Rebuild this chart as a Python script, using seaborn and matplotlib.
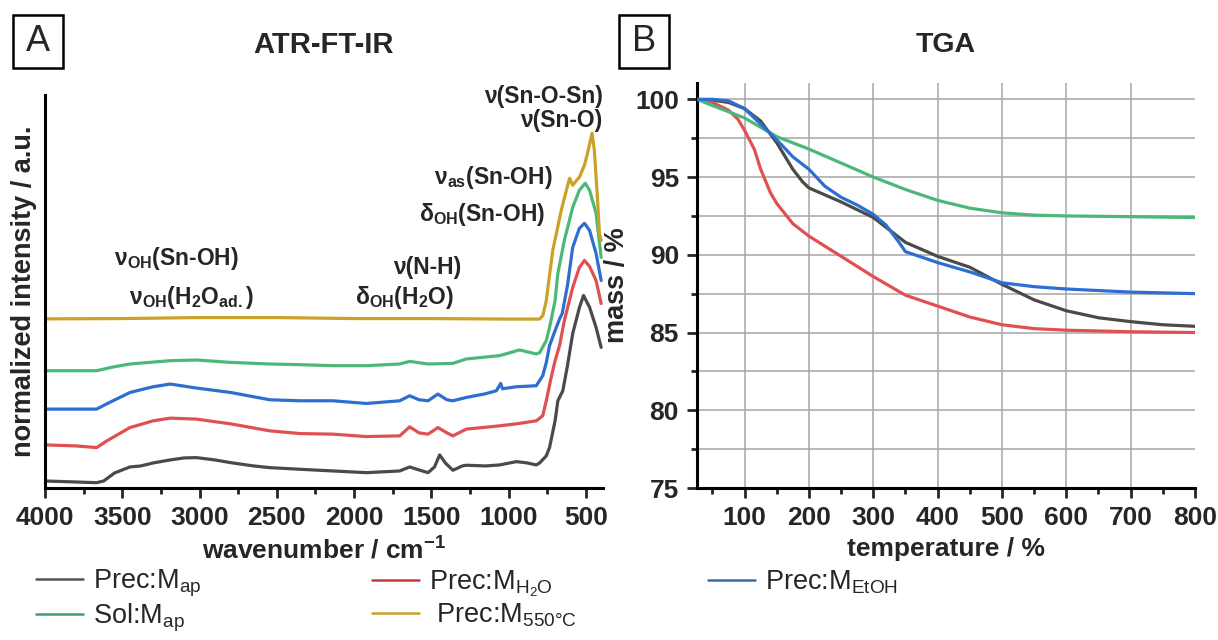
import numpy as np
import pandas as pd
import matplotlib
matplotlib.use("Agg")
import matplotlib.pyplot as plt
import seaborn as sns
from matplotlib.lines import Line2D
from matplotlib.patches import Rectangle
from matplotlib.ticker import MultipleLocator

sns.set_theme(style="white")
plt.rcParams['font.family'] = ['Liberation Sans', 'DejaVu Sans']
plt.rcParams['mathtext.fontset'] = 'custom'
plt.rcParams['mathtext.rm'] = 'Liberation Sans'
plt.rcParams['mathtext.bf'] = 'Liberation Sans:bold'
plt.rcParams['mathtext.it'] = 'Liberation Sans:italic'

# ---------------- data: ATR-FT-IR (offset, arbitrary units) ----------------
ir_map_wn = [4000, 3800, 3666, 3620, 3550, 3450, 3380, 3300, 3190, 3100, 3020, 2900, 2800, 2650, 2545,
             2352, 2136, 1921, 1705, 1641, 1580, 1522, 1480, 1447, 1410, 1361, 1300, 1275, 1150, 1059,
             950, 880, 822, 800, 757, 736, 700, 682, 650, 620, 586, 542, 516, 477, 435, 402]
ir_map_i = [7, 6, 5.3, 7, 15, 21, 22, 25, 28, 30, 30.3, 28, 25.3, 22, 20.3,
            18.7, 17, 15.3, 17, 21, 18, 15.3, 21, 33, 25, 17.7, 22, 22.7, 22, 23,
            26.3, 25, 23, 25, 32, 40.3, 67, 87, 97, 122, 154, 180.3, 192, 180.3, 160.3, 140.3]

ir_h2o_wn = [4000, 3800, 3666, 3600, 3450, 3300, 3190, 3020, 2800, 2545, 2352, 2136, 1921, 1705, 1641,
             1580, 1522, 1458, 1400, 1361, 1275, 1059, 950, 822, 780, 757, 730, 700, 671, 640,
             586, 543, 510, 477, 435, 402]
ir_h2o_i = [43, 42, 40.3, 47, 60.3, 67, 69.7, 68.7, 64, 57, 54.3, 53.7, 51.3, 52, 61,
            55, 53.7, 60.3, 55, 52, 58.7, 62, 64, 67, 72, 87, 107, 127, 142, 167,
            200, 220, 227, 221, 207, 184]

ir_etoh_wn = [4000, 3800, 3666, 3600, 3450, 3300, 3190, 3020, 2800, 2545, 2352, 2136, 1921, 1705, 1641,
              1580, 1522, 1458, 1400, 1361, 1275, 1150, 1080, 1052, 1040, 950, 822, 780, 757, 736,
              700, 670, 654, 620, 586, 543, 510, 477, 435, 402]
ir_etoh_i = [78.7, 78.7, 78.7, 84, 95.3, 101, 103.7, 99.7, 95.3, 88, 87, 87, 84.3, 87, 92,
             88, 87, 93.7, 88, 87, 90.3, 94, 97, 104.3, 99, 101, 102, 112, 125, 142,
             157, 169, 174, 202, 240, 259, 264, 257, 234, 207]

ir_sol_wn = [4000, 3800, 3666, 3550, 3450, 3190, 3020, 2800, 2545, 2352, 2136, 1921, 1705, 1641, 1522,
             1361, 1275, 1059, 930, 822, 800, 757, 736, 700, 682, 640, 586, 543, 505, 477, 435, 402]
ir_sol_i = [117, 117, 117, 121, 123.7, 127, 127.7, 125.3, 123.7, 123, 122, 122, 123.7, 126.3, 123.7,
            124.3, 128.7, 132, 137.7, 133.7, 135, 147, 160, 187, 214, 247, 280, 297, 304, 297, 274, 230]

ir_550_wn = [4000, 3500, 3000, 2500, 2000, 1500, 1000, 800, 779, 757, 715, 660, 627, 606, 586,
             560, 543, 510, 490, 461, 446, 425, 413, 402]
ir_550_i = [168.7, 169, 170, 170, 169, 169, 168.5, 168.5, 172, 187, 237, 277, 297, 309, 302,
            307, 310, 322, 334, 354, 337, 287, 254, 247]

# ---------------- data: TGA ----------------
tga_map_t = [26, 50, 75, 100, 125, 150, 175, 190, 200, 250, 300, 350, 400, 450, 500, 550, 600, 650, 700, 750, 800]
tga_map_m = [100, 99.95, 99.8, 99.4, 98.6, 97.2, 95.5, 94.7, 94.3, 93.4, 92.4, 90.8, 89.9, 89.2, 88.1, 87.1,
             86.4, 85.95, 85.7, 85.5, 85.4]

tga_h2o_t = [26, 50, 75, 90, 100, 115, 125, 140, 150, 175, 200, 250, 300, 350, 400, 450, 500, 550, 600, 700, 800]
tga_h2o_m = [100, 99.8, 99.3, 98.7, 98.0, 96.8, 95.5, 94.0, 93.3, 92.0, 91.2, 89.9, 88.6, 87.4, 86.7, 86.0,
             85.5, 85.25, 85.15, 85.05, 85.0]

tga_sol_t = [26, 50, 100, 150, 200, 250, 300, 350, 400, 450, 500, 550, 600, 700, 800]
tga_sol_m = [100, 99.6, 98.8, 97.6, 96.8, 95.9, 95.0, 94.2, 93.5, 93.0, 92.7, 92.55, 92.5, 92.45, 92.4]

tga_etoh_t = [26, 50, 75, 100, 125, 150, 175, 200, 225, 250, 275, 300, 320, 340, 350, 375, 400, 450, 500,
              550, 600, 700, 800]
tga_etoh_m = [100, 100, 99.9, 99.4, 98.4, 97.4, 96.3, 95.5, 94.4, 93.7, 93.2, 92.6, 91.9, 90.8, 90.2, 89.85,
              89.5, 88.9, 88.2, 87.95, 87.8, 87.6, 87.5]

samples = ["Prec:M$_{\\mathrm{ap}}$", "Sol:M$_{\\mathrm{ap}}$", "Prec:M$_{\\mathrm{H_2O}}$",
           " Prec:M$_{\\mathrm{550°C}}$", "Prec:M$_{\\mathrm{EtOH}}$"]
colors = ["#4a4a4a", "#4cb878", "#e05050", "#c9a227", "#2c6fd1"]
legend_colors = ["#555555", "#3f9e6c", "#c83c3c", "#c8a12a", "#3a6ea8"]
palette = dict(zip(samples, colors))

ir_df = pd.concat([
    pd.DataFrame({"wavenumber": ir_map_wn, "intensity": ir_map_i, "sample": samples[0]}),
    pd.DataFrame({"wavenumber": ir_h2o_wn, "intensity": ir_h2o_i, "sample": samples[2]}),
    pd.DataFrame({"wavenumber": ir_etoh_wn, "intensity": ir_etoh_i, "sample": samples[4]}),
    pd.DataFrame({"wavenumber": ir_sol_wn, "intensity": ir_sol_i, "sample": samples[1]}),
    pd.DataFrame({"wavenumber": ir_550_wn, "intensity": ir_550_i, "sample": samples[3]}),
], ignore_index=True)

tga_df = pd.concat([
    pd.DataFrame({"T": tga_map_t, "mass": tga_map_m, "sample": samples[0]}),
    pd.DataFrame({"T": tga_h2o_t, "mass": tga_h2o_m, "sample": samples[2]}),
    pd.DataFrame({"T": tga_sol_t, "mass": tga_sol_m, "sample": samples[1]}),
    pd.DataFrame({"T": tga_etoh_t, "mass": tga_etoh_m, "sample": samples[4]}),
], ignore_index=True)

W, H = 1218, 640
fig = plt.figure(figsize=(W / 100, H / 100), dpi=100)

def fx(px):
    return px / W

def fy(py):
    return 1 - py / H

axA = fig.add_axes([fx(45), fy(488), fx(603) - fx(45), fy(95) - fy(488)])
axB = fig.add_axes([fx(697), fy(488), fx(1195) - fx(697), fy(83) - fy(488)])

LW = 2.3
TFS = 19
# ---------------- panel A ----------------
sns.lineplot(data=ir_df, x="wavenumber", y="intensity", hue="sample", palette=palette,
             hue_order=[samples[0], samples[2], samples[4], samples[1], samples[3]],
             sort=False, estimator=None, legend=False, lw=LW, ax=axA)
axA.set_xlim(4000, 390)
axA.set_ylim(0, 392)
axA.xaxis.set_major_locator(MultipleLocator(500))
axA.xaxis.set_minor_locator(MultipleLocator(250))
axA.set_yticks([])
for s in ["top", "right"]:
    axA.spines[s].set_visible(False)
for s in ["left", "bottom"]:
    axA.spines[s].set_linewidth(2.2)
    axA.spines[s].set_color("black")
axA.tick_params(axis="x", which="major", direction="out", length=7, width=2, pad=6,
                labelsize=TFS, bottom=True)
axA.tick_params(axis="x", which="minor", direction="out", length=4, width=2, bottom=True)
for lab in axA.get_xticklabels():
    lab.set_fontweight("bold")
axA.set_xlabel("wavenumber / cm$^{\\mathbf{-1}}$", fontsize=TFS, fontweight="bold", labelpad=5)
axA.set_ylabel("normalized intensity / a.u.", fontsize=19.5, fontweight="bold", labelpad=6)

ann_kw = dict(transform=axA.transAxes, fontsize=16.5, fontweight="bold", va="center")
axA.text(1.0, 0.995, "ν(Sn-O-Sn)", ha="right", **ann_kw)
axA.text(0.998, 0.936, "ν(Sn-O)", ha="right", **ann_kw)
axA.text(0.910, 0.789, "ν$_{\\mathbf{as}}$(Sn-OH)", ha="right", **ann_kw)
axA.text(0.896, 0.695, "δ$_{\\mathbf{OH}}$(Sn-OH)", ha="right", **ann_kw)
axA.text(0.235, 0.585, "ν$_{\\mathbf{OH}}$(Sn-OH)", ha="center", **ann_kw)
axA.text(0.262, 0.486, "ν$_{\\mathbf{OH}}$(H$_{\\mathbf{2}}$O$_{\\mathbf{ad.}}$)", ha="center", **ann_kw)
axA.text(0.685, 0.562, "ν(N-H)", ha="center", **ann_kw)
axA.text(0.645, 0.486, "δ$_{\\mathbf{OH}}$(H$_{\\mathbf{2}}$O)", ha="center", **ann_kw)

# ---------------- panel B ----------------
sns.lineplot(data=tga_df, x="T", y="mass", hue="sample", palette=palette,
             hue_order=[samples[0], samples[2], samples[1], samples[4]],
             sort=False, estimator=None, legend=False, lw=LW, ax=axB, zorder=3)
axB.set_xlim(26, 800)
axB.set_ylim(75, 101.05)
axB.xaxis.set_major_locator(MultipleLocator(100))
axB.xaxis.set_minor_locator(MultipleLocator(50))
axB.yaxis.set_major_locator(MultipleLocator(5))
axB.yaxis.set_minor_locator(MultipleLocator(2.5))
axB.grid(True, which="major", axis="x", color="#a6a6a6", lw=1.1)
axB.grid(True, which="both", axis="y", color="#a6a6a6", lw=1.1)
axB.set_axisbelow(True)
for s in ["top", "right"]:
    axB.spines[s].set_visible(False)
for s in ["left", "bottom"]:
    axB.spines[s].set_linewidth(2.2)
    axB.spines[s].set_color("black")
axB.tick_params(axis="both", which="major", direction="out", length=7, width=2, pad=6,
                labelsize=TFS, bottom=True, left=True)
axB.tick_params(axis="both", which="minor", direction="out", length=4, width=2, bottom=True, left=True)
for lab in axB.get_xticklabels() + axB.get_yticklabels():
    lab.set_fontweight("bold")
axB.set_xlabel("temperature / %", fontsize=TFS, fontweight="bold", labelpad=5)
axB.set_ylabel("mass / %", fontsize=19.5, fontweight="bold", labelpad=4)
fig.canvas.draw()
for gl, tk in zip(axB.get_xgridlines(), axB.get_xticks()):
    if tk >= 800:
        gl.set_visible(False)

# ---------------- titles and panel letters ----------------
fig.text((fx(45) + fx(603)) / 2, fy(45), "ATR-FT-IR", ha="center", va="center",
         fontsize=21, fontweight="bold")
fig.text((fx(697) + fx(1195)) / 2, fy(45), "TGA", ha="center", va="center",
         fontsize=20.5, fontweight="bold")
for x0, x1, letter in [(13, 63, "A"), (619, 669, "B")]:
    fig.patches.append(Rectangle((fx(x0), fy(68)), fx(x1) - fx(x0), fy(15) - fy(68),
                                 transform=fig.transFigure, fill=False, ec="black", lw=1.8))
    fig.text((fx(x0) + fx(x1)) / 2, (fy(15) + fy(68)) / 2, letter, ha="center", va="center",
             fontsize=26)

# ---------------- legend ----------------
handles = [Line2D([], [], color=c, lw=1.8) for c in legend_colors]
leg_kw = dict(loc="upper left", frameon=False, fontsize=19.5, handlelength=1.75,
              handletextpad=0.35, labelspacing=0.1, borderpad=0, borderaxespad=0)
fig.legend([handles[0], handles[1]], [samples[0], samples[1]],
           bbox_to_anchor=(fx(36), fy(568)), **leg_kw)
fig.legend([handles[2], handles[3]], [samples[2], samples[3]],
           bbox_to_anchor=(fx(372), fy(568)), **leg_kw)
fig.legend([handles[4]], [samples[4]],
           bbox_to_anchor=(fx(708), fy(568)), **leg_kw)

fig.savefig("out.png", dpi=100)
